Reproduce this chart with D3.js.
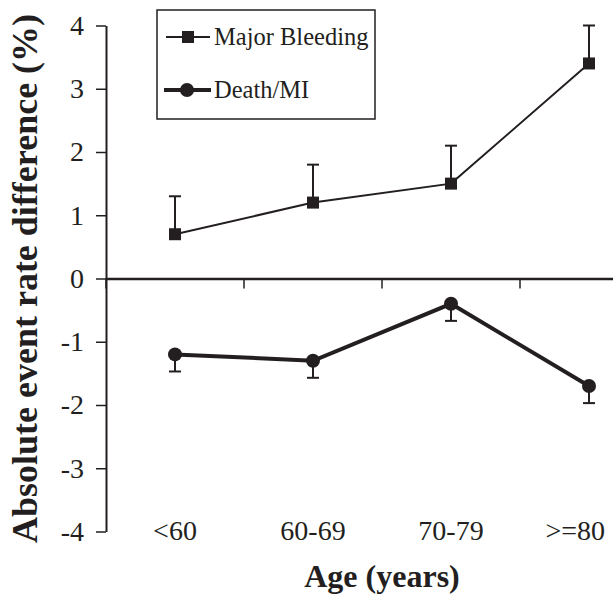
<!DOCTYPE html>
<html lang="en">
<head>
<meta charset="UTF-8">
<title>Absolute event rate difference by age</title>
<script src="https://cdn.jsdelivr.net/npm/d3@7/dist/d3.min.js"></script>
<style>
  body { margin: 0; background: #fff; }
  svg { display: block; }
</style>
</head>
<body>
<svg id="main" width="613" height="594"></svg>
<script>
    // data
    const categories = ["<60", "60-69", "70-79", ">=80"];
    const bleeding = [0.7, 1.2, 1.5, 3.4];
    const bleedingErr = [0.6, 0.6, 0.6, 0.6];
    const deathMI = [-1.2, -1.3, -0.4, -1.7];
    const deathMIErr = [0.27, 0.27, 0.27, 0.27];
    const yTicks = [-4, -3, -2, -1, 0, 1, 2, 3, 4];

    const ink = "#231f20";
    const serif = "'Liberation Serif', 'Times New Roman', serif";
    let svg = d3.select('#main');

    const plotLeft = 106, plotRight = 658, plotTop = 25.5, plotBottom = 531.5;
    const pageW = 613;

    let x = d3.scaleBand().domain(categories).range([plotLeft, plotRight]).padding(0);
    let y = d3.scaleLinear().domain([-4, 4]).range([plotBottom, plotTop]);
    const cx = d => x(d) + x.bandwidth() / 2;

    // y axis (plain hyphen for negatives, like the original)
    let yAxis = svg.append("g")
        .attr("transform", `translate(${plotLeft},0)`)
        .call(d3.axisLeft(y).tickValues(yTicks).tickSize(10).tickSizeOuter(0).tickPadding(12).tickFormat(d => String(d)));
    yAxis.select(".domain").attr("stroke", ink).attr("stroke-width", 2);
    yAxis.selectAll(".tick line").attr("stroke", ink).attr("stroke-width", 1.5);
    yAxis.selectAll(".tick text").attr("fill", ink).style("font-family", serif).style("font-size", "28px");

    // x axis sits on zero, ticks between categories
    let xAxis = svg.append("g")
        .attr("transform", `translate(0,${y(0)})`)
        .call(d3.axisBottom(x).tickSize(10).tickSizeOuter(0).tickFormat(""));
    xAxis.select(".domain").attr("stroke", ink).attr("stroke-width", 2.5);
    xAxis.selectAll(".tick").attr("transform", d => `translate(${x(d)},0)`);
    xAxis.selectAll(".tick line").attr("stroke", ink).attr("stroke-width", 1.5);

    // category labels at the bottom, last one pulled in to stay on the page
    svg.append("g").selectAll("text")
        .data(categories)
        .join("text")
        .attr("x", d => cx(d))
        .attr("y", y(-4) + 8)
        .attr("text-anchor", "middle")
        .attr("fill", ink)
        .style("font-family", serif)
        .style("font-size", "28px")
        .text(d => d)
        .each(function(d) {
            let w = this.getComputedTextLength();
            let over = cx(d) + w / 2 - (pageW - 8);
            if (over > 0) d3.select(this).attr("x", cx(d) - over);
        });

    // titles
    svg.append("text")
        .attr("x", (plotLeft + plotRight) / 2)
        .attr("y", 587)
        .attr("text-anchor", "middle")
        .attr("fill", ink)
        .style("font-family", serif)
        .style("font-size", "32px")
        .style("font-weight", "bold")
        .text("Age (years)");

    svg.append("text")
        .attr("transform", `translate(37,${(plotTop + plotBottom) / 2}) rotate(-90)`)
        .attr("text-anchor", "middle")
        .attr("fill", ink)
        .style("font-family", serif)
        .style("font-size", "36px")
        .style("font-weight", "bold")
        .text("Absolute event rate difference (%)");

    // error bars
    function errorBars(vals, errs, dir) {
        let g = svg.append("g").attr("stroke", ink).attr("stroke-width", 2);
        categories.forEach((c, i) => {
            let end = vals[i] + dir * errs[i];
            g.append("line").attr("x1", cx(c)).attr("x2", cx(c)).attr("y1", y(vals[i])).attr("y2", y(end));
            g.append("line").attr("x1", cx(c) - 6).attr("x2", cx(c) + 6).attr("y1", y(end)).attr("y2", y(end));
        });
    }
    errorBars(bleeding, bleedingErr, 1);
    errorBars(deathMI, deathMIErr, -1);

    // Major Bleeding line + squares
    svg.append("path")
        .datum(bleeding)
        .attr("d", d3.line().x((d, i) => cx(categories[i])).y(d => y(d)))
        .attr("fill", "none")
        .attr("stroke", ink)
        .attr("stroke-width", 2);
    svg.append("g").selectAll("rect")
        .data(bleeding)
        .join("rect")
        .attr("x", (d, i) => cx(categories[i]) - 6)
        .attr("y", d => y(d) - 6)
        .attr("width", 12)
        .attr("height", 12)
        .attr("fill", ink);

    // Death/MI line + circles
    svg.append("path")
        .datum(deathMI)
        .attr("d", d3.line().x((d, i) => cx(categories[i])).y(d => y(d)))
        .attr("fill", "none")
        .attr("stroke", ink)
        .attr("stroke-width", 4);
    svg.append("g").selectAll("circle")
        .data(deathMI)
        .join("circle")
        .attr("cx", (d, i) => cx(categories[i]))
        .attr("cy", d => y(d))
        .attr("r", 7)
        .attr("fill", ink);

    // legend
    let legend = svg.append("g");
    legend.append("rect")
        .attr("x", 157).attr("y", 10).attr("width", 218).attr("height", 109)
        .attr("fill", "#fff").attr("stroke", ink).attr("stroke-width", 1.5);
    legend.append("line").attr("x1", 166).attr("x2", 210).attr("y1", 37).attr("y2", 37)
        .attr("stroke", ink).attr("stroke-width", 2);
    legend.append("rect").attr("x", 182).attr("y", 31).attr("width", 12).attr("height", 12).attr("fill", ink);
    legend.append("text").attr("x", 214).attr("y", 45)
        .attr("fill", ink).style("font-family", serif).style("font-size", "24.5px").text("Major Bleeding");
    legend.append("line").attr("x1", 164).attr("x2", 211).attr("y1", 90).attr("y2", 90)
        .attr("stroke", ink).attr("stroke-width", 4);
    legend.append("circle").attr("cx", 187).attr("cy", 90).attr("r", 7).attr("fill", ink);
    legend.append("text").attr("x", 214).attr("y", 98)
        .attr("fill", ink).style("font-family", serif).style("font-size", "24.5px").text("Death/MI");
</script>
</body>
</html>
